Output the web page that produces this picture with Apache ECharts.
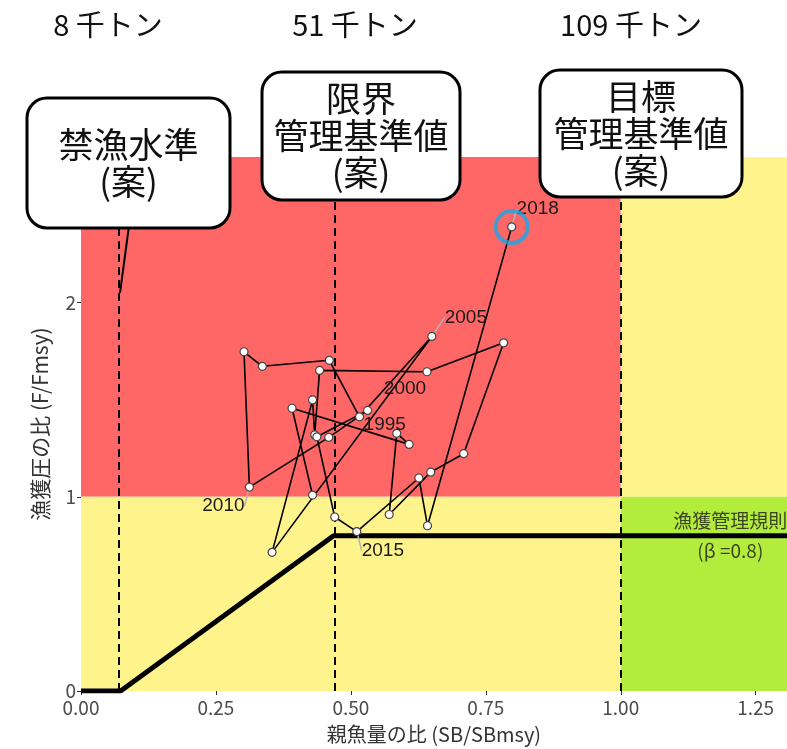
<!DOCTYPE html>
<html>
<head>
<meta charset="utf-8">
<script src="https://cdn.jsdelivr.net/npm/echarts@6/dist/echarts.min.js"></script>
<style>
  html, body { margin: 0; padding: 0; background: #fff; }
  #main { width: 787px; height: 749px; }
</style>
</head>
<body>
<div id="main"></div>
<script>
// trajectory, SB/SBmsy and F/Fmsy by year
const years = [1992, 1993, 1994, 1995, 1996, 1997, 1998, 1999, 2000, 2001,
  2002, 2003, 2004, 2005, 2006, 2007, 2008, 2009, 2010, 2011,
  2012, 2013, 2014, 2015, 2016, 2017, 2018];
const sbRatio = [0.429, 0.391, 0.608, 0.585, 0.571, 0.648, 0.709, 0.783, 0.641, 0.442,
  0.433, 0.429, 0.354, 0.650, 0.516, 0.460, 0.336, 0.302, 0.312, 0.459,
  0.531, 0.437, 0.470, 0.511, 0.626, 0.642, 0.798];
const fRatio = [1.009, 1.456, 1.270, 1.327, 0.909, 1.127, 1.222, 1.793, 1.644, 1.651,
  1.319, 1.499, 0.714, 1.826, 1.412, 1.703, 1.672, 1.747, 1.050, 1.306,
  1.445, 1.309, 0.896, 0.821, 1.097, 0.851, 2.390];
const labelYears = [1995, 2000, 2005, 2010, 2015, 2018];

// reference points (SB/SBmsy) and their tonnage
const refPoints = [0.0734, 0.468, 1.0];
const refTons = ['8 千トン', '51 千トン', '109 千トン'];

// harvest control rule (beta = 0.8)
const hcrX = [0, 0.0734, 0.468, 1.308];
const hcrY = [0, 0, 0.8, 0.8];

// short steep line near the ban level
const steepX = [0.0723, 0.106];
const steepY = [2.05, 2.75];

const xTicks = [0, 0.25, 0.5, 0.75, 1.0, 1.25];
const yTicks = [0, 1, 2];
const xMax = 1.308;
const yMax = 2.75;

const font = '"Noto Sans CJK JP", "Noto Sans", sans-serif';
const latin = '"Liberation Sans", Arial, sans-serif';

// label offsets (px) for the labelled years
const labelShift = {
  1995: [-12, -9], 2000: [-22, 17], 2005: [34, -19],
  2010: [-26, 19], 2015: [26, 19], 2018: [26, -18]
};

const trajData = years.map((yr, i) => {
  const d = { value: [sbRatio[i], fRatio[i]] };
  if (labelYears.includes(yr)) {
    d.label = { show: true, formatter: String(yr) };
    d.labelLine = { show: ![1995, 2000].includes(yr) };
  }
  return d;
});

const last = years.length - 1;

const myChart = echarts.init(document.getElementById('main'));
const option = {
  animation: false,
  grid: { left: 81, right: 0, top: 157, bottom: 56 },
  xAxis: {
    type: 'value', min: 0, max: xMax,
    name: '親魚量の比 (SB/SBmsy)', nameLocation: 'middle', nameGap: 33,
    nameTextStyle: { fontFamily: font, fontSize: 20, color: '#333' },
    axisLine: { show: false },
    axisTick: { show: true, length: 4, customValues: xTicks, lineStyle: { color: '#333' } },
    axisLabel: { customValues: xTicks, formatter: v => v.toFixed(2), fontFamily: font, fontSize: 19, color: '#4d4d4d', margin: 7 },
    splitLine: { show: false }
  },
  yAxis: {
    type: 'value', min: 0, max: yMax,
    name: '漁獲圧の比 (F/Fmsy)', nameLocation: 'middle', nameGap: 30,
    nameTextStyle: { fontFamily: font, fontSize: 21, color: '#333' },
    axisLine: { show: false },
    axisTick: { show: true, length: 4, customValues: yTicks, lineStyle: { color: '#333' } },
    axisLabel: { customValues: yTicks, fontFamily: font, fontSize: 19, color: '#4d4d4d', margin: 5 },
    splitLine: { show: false }
  },
  series: [
    {
      // zones and reference lines
      type: 'line', data: [], silent: true,
      markArea: {
        silent: true,
        data: [
          [{ coord: [0, 1], itemStyle: { color: '#ff6767' } }, { coord: [1, yMax] }],
          [{ coord: [1, 1], itemStyle: { color: '#fff38c' } }, { coord: [xMax, yMax] }],
          [{ coord: [0, 0], itemStyle: { color: '#fff38c' } }, { coord: [1, 1] }],
          [{ coord: [1, 0], itemStyle: { color: '#b3ec3c' } }, { coord: [xMax, 1] }]
        ]
      },
      markLine: {
        silent: true, symbol: 'none', label: { show: false },
        lineStyle: { color: '#000', type: [8, 5], width: 2 },
        data: refPoints.map(v => ({ xAxis: v }))
      }
    },
    {
      type: 'line', silent: true, symbol: 'none',
      data: hcrX.map((x, i) => [x, hcrY[i]]),
      lineStyle: { color: '#000', width: 5 }
    },
    {
      type: 'line', silent: true, symbol: 'none',
      data: steepX.map((x, i) => [x, steepY[i]]),
      lineStyle: { color: '#000', width: 2 }
    },
    {
      type: 'line', silent: true,
      data: trajData,
      symbol: 'circle', symbolSize: 8,
      lineStyle: { color: '#000', width: 1.6 },
      itemStyle: { color: '#fff', borderColor: '#444', borderWidth: 1.2 },
      label: { show: false, position: 'inside', fontFamily: latin, fontSize: 19, color: '#1a1a1a' },
      labelLine: { show: true, lineStyle: { color: '#b3b3b3', width: 1.5 } },
      labelLayout: p => {
        const s = labelShift[years[p.dataIndex]];
        return s ? { dx: s[0], dy: s[1] } : {};
      },
      z: 5
    },
    {
      type: 'scatter', silent: true,
      data: [[sbRatio[last], fRatio[last]]],
      symbol: 'circle', symbolSize: 32,
      itemStyle: { color: 'rgba(0,0,0,0)', borderColor: '#1aa6e6', borderWidth: 4 },
      z: 6
    },
    {
      type: 'scatter', silent: true, symbolSize: 0,
      data: [[1.203, 0.875], [1.203, 0.72]],
      label: {
        show: true, position: 'inside',
        formatter: p => (p.dataIndex === 0 ? '漁獲管理規則' : '(β =0.8)'),
        fontFamily: font, fontSize: 19, color: '#1a1a1a'
      },
      z: 7
    }
  ]
};
myChart.setOption(option);

// boxes and tonnage labels above the reference lines
const boxes = [
  { x: 27, y: 98, w: 203, h: 130, text: '禁漁水準\n(案)' },
  { x: 262, y: 72, w: 198, h: 128, text: '限界\n管理基準値\n(案)' },
  { x: 540, y: 70, w: 202, h: 127, text: '目標\n管理基準値\n(案)' }
];
const tonX = [108, 355, 631];
const graphics = [];
boxes.forEach((b, i) => {
  graphics.push({
    type: 'rect', z: 100,
    shape: { x: b.x, y: b.y, width: b.w, height: b.h, r: 20 },
    style: { fill: '#fff', stroke: '#000', lineWidth: 3 }
  });
  graphics.push({
    type: 'text', z: 101,
    x: b.x + b.w / 2, y: b.y + b.h / 2,
    style: { text: b.text, font: '35px ' + font, textAlign: 'center', textVerticalAlign: 'middle', lineHeight: 37, fill: '#111' }
  });
  graphics.push({
    type: 'text', z: 101, x: tonX[i], y: 25,
    style: { text: refTons[i], font: '29px ' + font, textAlign: 'center', textVerticalAlign: 'middle', fill: '#111' }
  });
});
myChart.setOption({ graphic: graphics });

window.addEventListener('resize', () => { myChart.resize(); });
</script>
</body>
</html>
